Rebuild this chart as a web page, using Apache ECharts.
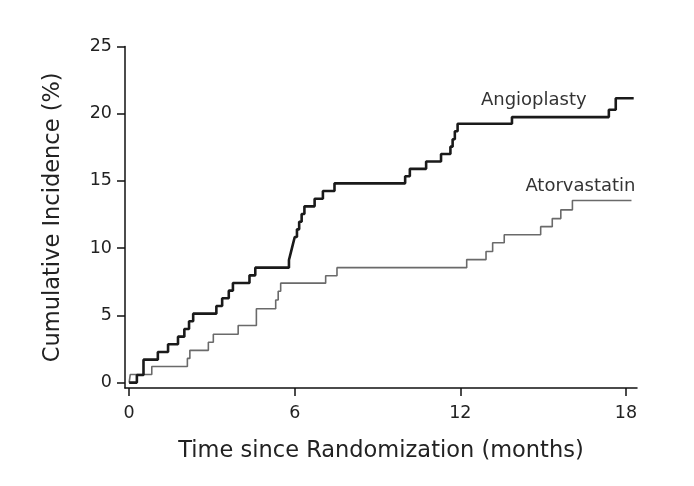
<!DOCTYPE html>
<html>
<head>
<meta charset="utf-8">
<script src="https://cdn.jsdelivr.net/npm/echarts@6/dist/echarts.min.js"></script>
<style>
html,body{margin:0;padding:0;background:#fff;}
#chart{width:694px;height:486px;}
</style>
</head>
<body>
<div id="chart"></div>
<script>
// Kaplan-Meier style cumulative incidence (step at event times)
const angioTime  = [0, 0.28, 0.52, 1.04, 1.41, 1.77, 2.00, 2.17, 2.32, 3.16, 3.37, 3.61, 3.76, 4.36, 4.57, 5.79, 5.86, 5.93, 6.00, 6.08, 6.16, 6.25, 6.35, 6.72, 7.02, 7.44, 10.00, 10.17, 10.76, 11.30, 11.64, 11.72, 11.80, 11.90, 13.87, 17.38, 17.63, 18.28];
const angioValue = [0, 0.57, 1.71, 2.28, 2.85, 3.42, 3.99, 4.56, 5.13, 5.70, 6.27, 6.84, 7.41, 7.98, 8.55, 9.12, 9.69, 10.26, 10.83, 11.40, 11.97, 12.54, 13.11, 13.68, 14.25, 14.82, 15.35, 15.90, 16.45, 17.00, 17.55, 18.10, 18.70, 19.25, 19.75, 20.30, 21.15, 21.15];

const atorTime  = [0, 0.04, 0.82, 2.11, 2.20, 2.87, 3.05, 3.95, 4.61, 5.31, 5.40, 5.49, 7.12, 7.53, 12.23, 12.93, 13.17, 13.59, 14.91, 15.33, 15.64, 16.06, 18.20];
const atorValue = [0, 0.60, 1.20, 1.80, 2.40, 3.00, 3.60, 4.25, 5.50, 6.15, 6.80, 7.40, 7.95, 8.55, 9.15, 9.75, 10.40, 11.00, 11.60, 12.20, 12.85, 13.55, 13.55];

const xTicks = [0, 6, 12, 18];
const yTicks = [0, 5, 10, 15, 20, 25];

const seriesNames = ['Angioplasty', 'Atorvastatin'];
const labelPos = [[14.66, 21.0], [16.35, 14.6]];

const pairs = (t, v) => t.map((x, i) => [x, v[i]]);

const FONT = 'DejaVu Sans';
const chart = echarts.init(document.getElementById('chart'), null, {renderer: 'canvas'});

chart.setOption({
  backgroundColor: '#ffffff',
  animation: false,
  grid: {left: 125, right: 57, top: 46.5, bottom: 98, containLabel: false},
  xAxis: {
    type: 'value',
    min: -0.15,
    max: 18.4,
    name: 'Time since Randomization (months)',
    nameLocation: 'middle',
    nameGap: 52,
    nameTextStyle: {fontFamily: FONT, fontSize: 22.5, color: '#222'},
    axisLine: {show: true, onZero: false, lineStyle: {color: '#111', width: 1.5}},
    axisTick: {show: true, length: 8, lineStyle: {color: '#111', width: 1.5}, customValues: xTicks},
    axisLabel: {customValues: xTicks, fontFamily: FONT, fontSize: 17.5, color: '#222', margin: 16},
    splitLine: {show: false}
  },
  yAxis: {
    type: 'value',
    min: -0.4,
    max: 25,
    name: 'Cumulative Incidence (%)',
    nameLocation: 'middle',
    nameGap: 60,
    nameTextStyle: {fontFamily: FONT, fontSize: 22.5, color: '#222'},
    axisLine: {show: true, onZero: false, lineStyle: {color: '#111', width: 1.5}},
    axisTick: {show: true, length: 8, lineStyle: {color: '#111', width: 1.5}, customValues: yTicks},
    axisLabel: {customValues: yTicks, fontFamily: FONT, fontSize: 17.5, color: '#222', margin: 13},
    splitLine: {show: false}
  },
  series: [
    {
      name: seriesNames[0],
      type: 'line',
      step: 'end',
      symbol: 'none',
      data: pairs(angioTime, angioValue),
      lineStyle: {color: '#1a1a1a', width: 2.6},
      z: 3,
      markPoint: {
        symbol: 'circle', symbolSize: 0, silent: true,
        label: {show: true, position: 'inside', formatter: seriesNames[0], fontFamily: FONT, fontSize: 18, color: '#333'},
        data: [{coord: labelPos[0]}]
      }
    },
    {
      name: seriesNames[1],
      type: 'line',
      step: 'end',
      symbol: 'none',
      data: pairs(atorTime, atorValue),
      lineStyle: {color: '#6a6a6a', width: 1.6},
      z: 2,
      markPoint: {
        symbol: 'circle', symbolSize: 0, silent: true,
        label: {show: true, position: 'inside', formatter: seriesNames[1], fontFamily: FONT, fontSize: 18, color: '#333'},
        data: [{coord: labelPos[1]}]
      }
    }
  ]
});
</script>
</body>
</html>
